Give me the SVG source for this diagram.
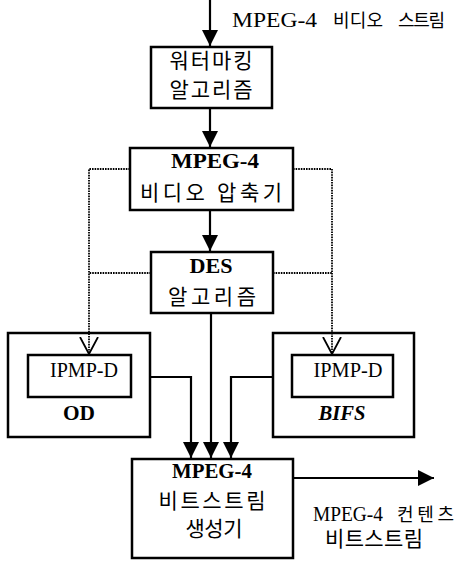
<svg xmlns="http://www.w3.org/2000/svg" width="456" height="562" viewBox="0 0 456 562">
<style>
text{font-family:"Liberation Serif","Noto Sans CJK KR",serif;fill:#000;text-anchor:middle}
.k{font-size:21px}
.ks{font-size:18px;text-anchor:start}
.b{font-size:22px;font-weight:bold}
.r{font-size:20px}
.rs{font-size:21px;text-anchor:start}
.box{fill:#fff;stroke:#000;stroke-width:2.5}
.ln{fill:none;stroke:#000;stroke-width:2.2}
.dot{fill:none;stroke:#000;stroke-width:1.8;stroke-dasharray:1.6,1}
</style>
<defs>
<marker id="ah" viewBox="0 0 16 16" refX="16" refY="8" markerWidth="16" markerHeight="16" markerUnits="userSpaceOnUse" orient="auto">
<path d="M0,0 L16,8 L0,16 Z" fill="#000"/>
</marker>
<marker id="va" viewBox="0 0 18 20" refX="17" refY="10" markerWidth="18" markerHeight="20" markerUnits="userSpaceOnUse" orient="auto">
<path d="M0,1 L17,10 L0,19" fill="none" stroke="#000" stroke-width="1.8"/>
</marker>
</defs>
<g id="label-in">
<text class="rs" x="232" y="27" textLength="85" lengthAdjust="spacingAndGlyphs">MPEG-4</text>
<text class="ks" x="333" y="27" textLength="50" lengthAdjust="spacing">비디오</text>
<text class="ks" x="398" y="27" textLength="47" lengthAdjust="spacing">스트림</text>
</g>
<g id="watermark">
<rect class="box" x="151" y="47" width="121" height="61"/>
<text class="k" x="211" y="68" textLength="83" lengthAdjust="spacing">워터마킹</text>
<text class="k" x="211" y="97" textLength="83" lengthAdjust="spacing">알고리즘</text>
</g>
<g id="compressor">
<rect class="box" x="130" y="148" width="163" height="62"/>
<text class="b" x="215" y="168" textLength="88" lengthAdjust="spacingAndGlyphs">MPEG-4</text>
<text class="k" x="211" y="200" textLength="142" lengthAdjust="spacing">비디오 압축기</text>
</g>
<g id="des">
<rect class="box" x="151" y="252" width="122" height="61"/>
<text class="b" x="211" y="273" textLength="43" lengthAdjust="spacingAndGlyphs">DES</text>
<text class="k" x="212" y="304" textLength="88" lengthAdjust="spacing">알고리즘</text>
</g>
<g id="od">
<rect class="box" x="8" y="333" width="142" height="104"/>
<rect class="box" x="28" y="355" width="103" height="42"/>
<text class="r" x="84" y="377" textLength="68" lengthAdjust="spacingAndGlyphs">IPMP-D</text>
<text class="b" x="79" y="420" textLength="32" lengthAdjust="spacingAndGlyphs">OD</text>
</g>
<g id="bifs">
<rect class="box" x="273" y="333" width="141" height="104"/>
<rect class="box" x="292" y="355" width="101" height="42"/>
<text class="r" x="348" y="377" textLength="69" lengthAdjust="spacingAndGlyphs">IPMP-D</text>
<text class="b" x="342" y="420" font-style="italic" textLength="47" lengthAdjust="spacingAndGlyphs">BIFS</text>
</g>
<g id="generator">
<rect class="box" x="132" y="459" width="161" height="99"/>
<text class="b" x="212" y="478" textLength="80" lengthAdjust="spacingAndGlyphs">MPEG-4</text>
<text class="k" x="212" y="508" textLength="107" lengthAdjust="spacing">비트스트림</text>
<text class="k" x="214" y="536" textLength="57" lengthAdjust="spacing">생성기</text>
</g>
<g id="label-out">
<text class="rs" x="313" y="521" textLength="70" lengthAdjust="spacingAndGlyphs">MPEG-4</text>
<text class="ks" x="397" y="521" textLength="57" lengthAdjust="spacing">컨텐츠</text>
<text class="k" x="374" y="546" font-size="19" textLength="98" lengthAdjust="spacing">비트스트림</text>
</g>
<g id="connectors">
<line class="ln" x1="210" y1="0" x2="210" y2="46" marker-end="url(#ah)"/>
<line class="ln" x1="210" y1="108" x2="210" y2="147" marker-end="url(#ah)"/>
<line class="ln" x1="210" y1="210" x2="210" y2="251" marker-end="url(#ah)"/>
<polyline class="dot" points="130,169 89,169 89,354" marker-end="url(#va)"/>
<polyline class="dot" points="293,169 332,169 332,354" marker-end="url(#va)"/>
<line class="dot" x1="151" y1="273" x2="89" y2="273"/>
<line class="dot" x1="273" y1="273" x2="332" y2="273"/>
<polyline class="ln" points="150,377 191,377 191,458" marker-end="url(#ah)"/>
<line class="ln" x1="211" y1="313" x2="211" y2="458" marker-end="url(#ah)"/>
<polyline class="ln" points="273,377 231,377 231,458" marker-end="url(#ah)"/>
<line class="ln" x1="293" y1="478" x2="434" y2="478" marker-end="url(#ah)"/>
</g>
</svg>
